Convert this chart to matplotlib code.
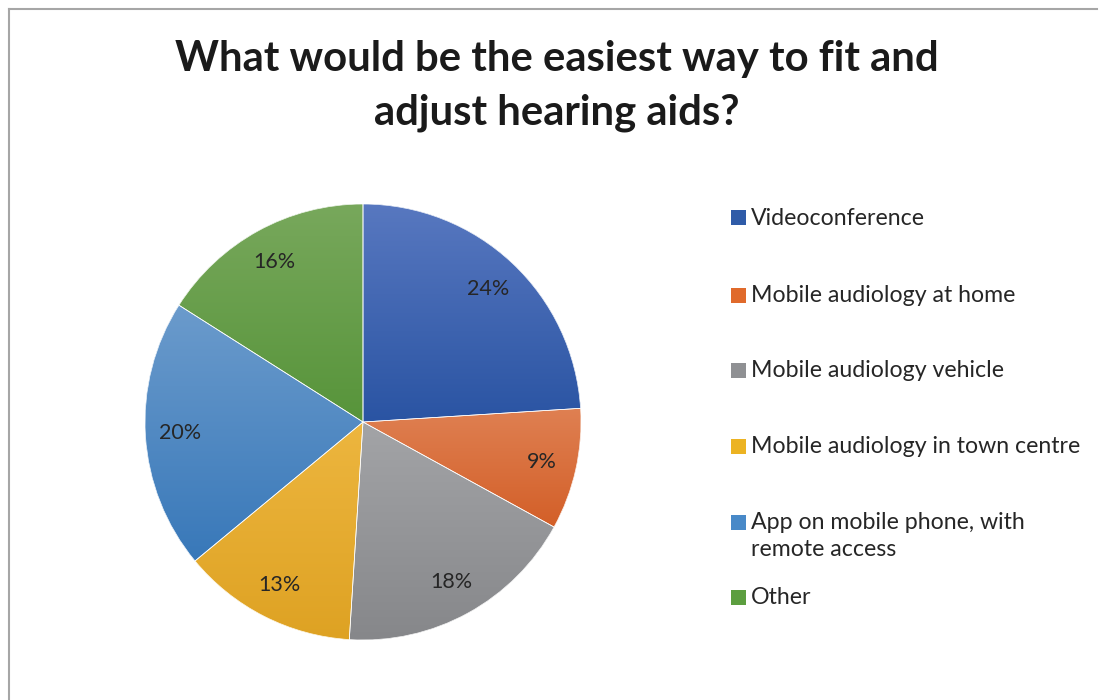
import numpy as np
import matplotlib.pyplot as plt
from matplotlib.colors import LinearSegmentedColormap
from matplotlib.patches import Rectangle, Wedge

plt.rcParams['font.family'] = ['Lato', 'DejaVu Sans']

title = "What would be the easiest way to fit and\nadjust hearing aids?"
labels = ["Videoconference", "Mobile audiology at home", "Mobile audiology vehicle",
          "Mobile audiology in town centre", "App on mobile phone, with\nremote access", "Other"]
shares = [24, 9, 18, 13, 20, 16]
# top / bottom colour of each slice gradient
tops = ["#5878c0", "#df8052", "#a3a4a7", "#edb63f", "#6b9bcc", "#78a85c"]
bottoms = ["#2a54a3", "#d35f28", "#86878a", "#dea223", "#3878b9", "#57943a"]
swatches = ["#2f5ba8", "#e06a2b", "#8f9093", "#ecb322", "#4889c8", "#5c9e3f"]

W, H = 1099, 700
fig = plt.figure(figsize=(W / 100, H / 100), dpi=100)

# chart frame
fig.add_artist(plt.Line2D([8.5 / W, 8.5 / W], [0, 1 - 8.5 / H], color="#a6a6a6", lw=1.5))
fig.add_artist(plt.Line2D([8.5 / W, 1097 / W], [1 - 8.5 / H, 1 - 8.5 / H], color="#a6a6a6", lw=1.5))

fig.text(557 / W, 1 - 86 / H, title, ha="center", va="center", fontsize=30.2,
         fontweight="bold", color="#1a1a1a", linespacing=1.5)

cx, cy, r = 363, 422, 218
pad = 230
ax = fig.add_axes([(cx - pad) / W, (H - cy - pad) / H, 2 * pad / W, 2 * pad / H])
wedges, texts, autotexts = ax.pie(shares, startangle=90, counterclock=False,
                                  colors=swatches, autopct="%.0f%%", pctdistance=0.84,
                                  wedgeprops=dict(linewidth=0),
                                  textprops=dict(fontsize=15.5, color="#262626"))

# vertical gradient inside every slice
for w, c0, c1 in zip(wedges, tops, bottoms):
    bb = w.get_path().get_extents()
    cmap = LinearSegmentedColormap.from_list("g", [c1, c0])
    grad = np.linspace(0, 1, 256).reshape(-1, 1)
    im = ax.imshow(grad, cmap=cmap, origin="lower", aspect="auto",
                   extent=[bb.x0, bb.x1, bb.y0, bb.y1], zorder=1.5)
    im.set_clip_path(w)
    ax.add_patch(Wedge(w.center, w.r, w.theta1, w.theta2, facecolor="none",
                       edgecolor="white", lw=0.5, zorder=1.6))
for t in autotexts:
    t.set_zorder(3)

lim = pad / r
ax.set_xlim(-lim, lim)
ax.set_ylim(-lim, lim)
ax.set_aspect("equal")
ax.axis("off")

# legend
rows = [218, 295, 370, 446, 522, 597]
for lab, col, y in zip(labels, swatches, rows):
    fig.add_artist(Rectangle((731 / W, 1 - (y + 7.5) / H), 15 / W, 15 / H,
                             facecolor=col, edgecolor="none"))
    fig.text(751 / W, 1 - (y - 10) / H, lab, ha="left", va="top", fontsize=16.7,
             color="#262626", linespacing=1.38)

fig.savefig("out.png", dpi=100)
